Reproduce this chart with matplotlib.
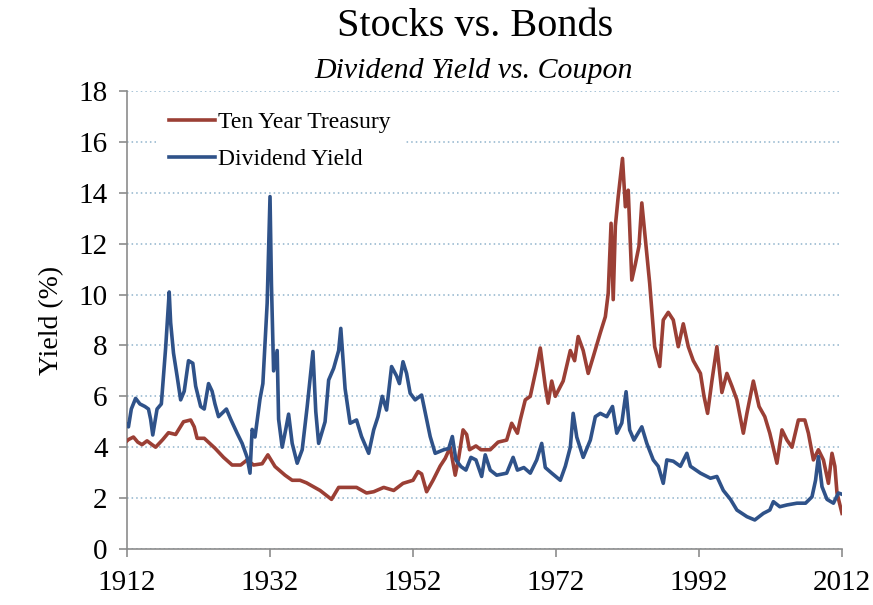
import matplotlib
matplotlib.use('Agg')
import matplotlib.pyplot as plt

# Ten year treasury (anio, rendimiento %)
tsy_years = [1912.0, 1912.2, 1912.9, 1913.5, 1914.1, 1914.8, 1915.5, 1916.0, 1917.0, 1917.8,
             1918.8, 1919.9, 1920.9, 1921.4, 1921.8, 1922.8, 1924.3, 1925.5, 1926.7, 1927.9,
             1928.8, 1929.7, 1930.9, 1931.7, 1932.7, 1934.1, 1935.1, 1936.2, 1937.1, 1939.0,
             1940.6, 1941.6, 1944.1, 1945.5, 1946.5, 1947.9, 1949.3, 1950.6, 1952.0, 1952.7,
             1953.2, 1953.9, 1954.8, 1955.8, 1956.5, 1957.2, 1957.9, 1958.4, 1959.0, 1959.5,
             1959.9, 1960.8, 1961.5, 1962.8, 1963.9, 1965.1, 1965.8, 1966.6, 1967.0, 1967.7,
             1968.4, 1969.3, 1969.8, 1970.5, 1970.9, 1971.4, 1971.9, 1973.0, 1974.0, 1974.6,
             1975.1, 1975.8, 1976.5, 1977.2, 1978.2, 1978.9, 1979.3, 1979.7, 1980.0, 1980.3,
             1980.7, 1981.3, 1981.7, 1982.1, 1982.6, 1983.1, 1983.6, 1984.0, 1984.6, 1985.1,
             1985.8, 1986.5, 1987.0, 1987.7, 1988.4, 1989.1, 1989.8, 1990.5, 1991.2, 1992.2,
             1992.7, 1993.2, 1993.8, 1994.5, 1995.2, 1995.9, 1996.6, 1997.3, 1998.2, 1998.7,
             1999.6, 2000.4, 2001.2, 2001.9, 2002.9, 2003.6, 2004.3, 2005.0, 2005.9, 2006.8,
             2007.3, 2008.0, 2008.7, 2009.4, 2010.1, 2010.6, 2011.0, 2011.3, 2012.0]
tsy_vals = [4.25, 4.3, 4.4, 4.2, 4.1, 4.25, 4.1, 4.0, 4.3, 4.57,
            4.5, 5.0, 5.07, 4.8, 4.35, 4.35, 3.96, 3.6, 3.3, 3.3,
            3.5, 3.3, 3.35, 3.7, 3.24, 2.9, 2.7, 2.7, 2.6, 2.3,
            1.95, 2.42, 2.42, 2.2, 2.25, 2.42, 2.3, 2.58, 2.7, 3.04,
            2.95, 2.25, 2.7, 3.26, 3.56, 4.0, 2.9, 3.6, 4.68, 4.5,
            3.9, 4.05, 3.9, 3.9, 4.2, 4.28, 4.94, 4.55, 5.07, 5.86,
            6.0, 7.17, 7.9, 6.4, 5.73, 6.6, 6.0, 6.6, 7.8, 7.4,
            8.35, 7.8, 6.9, 7.55, 8.5, 9.13, 10.05, 12.8, 9.8, 12.7,
            13.85, 15.35, 13.45, 14.1, 10.57, 11.2, 11.9, 13.6, 11.9, 10.44,
            7.95, 7.17, 9.0, 9.3, 9.0, 7.95, 8.85, 7.95, 7.4, 6.9,
            6.0, 5.33, 6.6, 7.95, 6.15, 6.9, 6.4, 5.86, 4.55, 5.33,
            6.6, 5.6, 5.2, 4.55, 3.37, 4.68, 4.28, 4.0, 5.07, 5.07,
            4.55, 3.5, 3.9, 3.5, 2.58, 3.76, 3.25, 2.2, 1.4]

# Dividend yield (anio, rendimiento %)
div_years = [1912.0, 1912.2, 1912.6, 1913.2, 1913.8, 1914.5, 1915.0, 1915.3, 1915.6, 1916.2,
             1916.8, 1917.4, 1917.9, 1918.1, 1918.5, 1919.0, 1919.5, 1920.0, 1920.6, 1921.2,
             1921.6, 1922.3, 1922.8, 1923.4, 1923.9, 1924.3, 1924.8, 1925.9, 1926.5, 1927.4,
             1928.1, 1928.8, 1929.2, 1929.5, 1929.9, 1930.6, 1931.0, 1931.6, 1932.0, 1932.2,
             1932.5, 1933.0, 1933.2, 1933.7, 1934.2, 1934.6, 1935.1, 1935.8, 1936.5, 1937.2,
             1938.0, 1938.4, 1938.8, 1939.7, 1940.2, 1940.9, 1941.6, 1941.9, 1942.5, 1943.2,
             1944.1, 1944.8, 1945.8, 1946.5, 1947.1, 1947.7, 1948.3, 1949.0, 1949.7, 1950.1,
             1950.6, 1951.1, 1951.6, 1952.3, 1953.2, 1953.6, 1954.4, 1955.1, 1956.3, 1957.0,
             1957.5, 1958.0, 1958.7, 1959.4, 1960.1, 1960.8, 1961.6, 1962.1, 1962.8, 1963.7,
             1965.1, 1966.0, 1966.6, 1967.5, 1968.4, 1969.3, 1970.0, 1970.5, 1971.4, 1972.6,
             1973.3, 1974.0, 1974.4, 1974.9, 1975.8, 1976.8, 1977.5, 1978.2, 1979.1, 1979.9,
             1980.5, 1981.2, 1981.8, 1982.3, 1982.9, 1984.0, 1984.7, 1985.6, 1986.3, 1987.0,
             1987.5, 1988.4, 1989.4, 1990.3, 1990.8, 1992.2, 1993.6, 1994.5, 1995.4, 1996.4,
             1997.3, 1998.7, 1999.8, 2001.0, 2001.9, 2002.4, 2003.3, 2004.3, 2005.7, 2006.9,
             2007.8, 2008.3, 2008.7, 2009.2, 2009.9, 2010.8, 2011.5, 2012.0]
div_vals = [4.9, 4.8, 5.5, 5.92, 5.7, 5.6, 5.5, 5.1, 4.48, 5.5,
            5.7, 7.9, 10.1, 8.9, 7.7, 6.8, 5.86, 6.2, 7.4, 7.3,
            6.4, 5.6, 5.5, 6.5, 6.2, 5.7, 5.2, 5.5, 5.1, 4.55,
            4.15, 3.6, 2.98, 4.7, 4.4, 5.9, 6.5, 9.66, 13.85, 10.4,
            7.0, 7.8, 5.1, 4.0, 4.7, 5.3, 4.15, 3.37, 3.9, 5.6,
            7.76, 5.4, 4.15, 5.0, 6.64, 7.1, 7.8, 8.67, 6.3, 4.94,
            5.07, 4.42, 3.76, 4.68, 5.2, 6.0, 5.46, 7.17, 6.8, 6.5,
            7.36, 6.9, 6.12, 5.86, 6.05, 5.5, 4.42, 3.76, 3.9, 3.95,
            4.42, 3.5, 3.24, 3.1, 3.6, 3.5, 2.85, 3.7, 3.1, 2.9,
            2.98, 3.6, 3.1, 3.2, 2.98, 3.5, 4.15, 3.2, 2.98, 2.7,
            3.25, 4.0, 5.33, 4.4, 3.6, 4.28, 5.2, 5.33, 5.2, 5.6,
            4.55, 4.95, 6.18, 4.68, 4.28, 4.8, 4.15, 3.5, 3.25, 2.58,
            3.5, 3.45, 3.25, 3.76, 3.25, 2.98, 2.78, 2.85, 2.3, 1.95,
            1.53, 1.27, 1.14, 1.4, 1.53, 1.86, 1.66, 1.73, 1.8, 1.8,
            2.05, 2.7, 3.63, 2.45, 1.95, 1.8, 2.2, 2.15]

x_ticks = [1912, 1932, 1952, 1972, 1992, 2012]
y_ticks = [0, 2, 4, 6, 8, 10, 12, 14, 16, 18]

plt.rcParams['font.family'] = ['Liberation Serif', 'DejaVu Serif']

fig = plt.figure(figsize=(8.73, 6.05), dpi=100)
ax = fig.add_axes([0.1455, 0.0926, 0.819, 0.757])

ax.plot(tsy_years, tsy_vals, color='#9B3F35', linewidth=2.6, label='Ten Year Treasury', zorder=3)
ax.plot(div_years, div_vals, color='#2F5289', linewidth=2.6, label='Dividend Yield', zorder=3)

ax.set_xlim(1912, 2012)
ax.set_ylim(0, 18)
ax.set_xticks(x_ticks)
ax.set_yticks(y_ticks)
ax.tick_params(axis='both', labelsize=21, color='#8C8C8C', length=6, width=1.2, direction='out')
ax.tick_params(axis='x', pad=9)
ax.tick_params(axis='y', pad=8)
ax.grid(axis='y', color='#8FB3CC', linestyle=(0, (1, 2)), linewidth=1.1)
ax.set_axisbelow(True)
for s in ['top', 'right']:
    ax.spines[s].set_visible(False)
for s in ['left', 'bottom']:
    ax.spines[s].set_color('#8C8C8C')
    ax.spines[s].set_linewidth(1.2)

ax.set_ylabel('Yield (%)', fontsize=20, labelpad=10)

fig.text(0.544, 0.957, 'Stocks vs. Bonds', ha='center', va='center', fontsize=29)
fig.text(0.543, 0.883, 'Dividend Yield vs. Coupon', ha='center', va='center', fontsize=21.5, style='italic')

leg = ax.legend(loc='upper left', bbox_to_anchor=(0.041, 0.984), borderaxespad=0, fontsize=17,
                frameon=True, facecolor='white', edgecolor='none', framealpha=1, fancybox=False,
                handlelength=1.95, handletextpad=0.12, labelspacing=0.68, borderpad=0.55)

plt.savefig('out.png', dpi=100)
